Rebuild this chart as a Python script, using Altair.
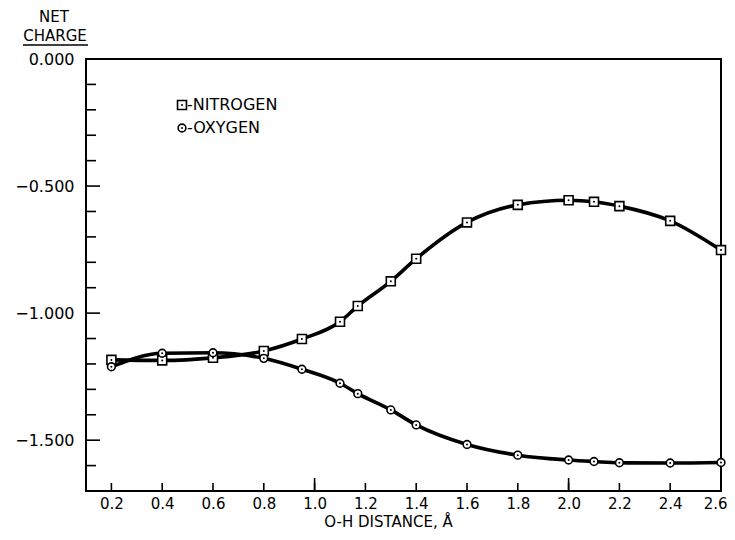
import altair as alt
import pandas as pd

# ---- data ----
distance = [0.2, 0.4, 0.6, 0.8, 0.95, 1.1, 1.17, 1.3, 1.4, 1.6, 1.8, 2.0, 2.1, 2.2, 2.4, 2.6]
nitrogen = [-1.184, -1.186, -1.176, -1.149, -1.102, -1.034, -0.972, -0.875, -0.786,
            -0.643, -0.574, -0.556, -0.562, -0.579, -0.637, -0.752]
oxygen = [-1.211, -1.158, -1.156, -1.178, -1.221, -1.276, -1.317, -1.381, -1.440,
          -1.517, -1.559, -1.578, -1.584, -1.589, -1.590, -1.588]

x_tick_values = [0.2, 0.4, 0.6, 0.8, 1.0, 1.2, 1.4, 1.6, 1.8, 2.0, 2.2, 2.4, 2.6]
x_long_ticks = [1.0, 2.0]
y_label_values = [0.0, -0.5, -1.0, -1.5]
y_minor_ticks = [-0.1, -0.2, -0.3, -0.4, -0.6, -0.7, -0.8, -0.9,
                 -1.1, -1.2, -1.3, -1.4, -1.6]

FONT = "DejaVu Sans"
FS = 16
FSX = 15
W, H = 635, 432

df = pd.DataFrame({
    "x": distance * 2,
    "y": nitrogen + oxygen,
    "series": ["NITROGEN"] * len(distance) + ["OXYGEN"] * len(distance),
})
df_n = df[df.series == "NITROGEN"]
df_o = df[df.series == "OXYGEN"]

xs = alt.Scale(domain=[0.1, 2.6], nice=False, zero=False)
ys = alt.Scale(domain=[-1.7, 0.0], nice=False, zero=False)

axX = alt.Axis(
    values=x_tick_values, format=".1f", ticks=False, domain=False, grid=False,
    labelFont=FONT, labelFontSize=FSX, labelColor="black", labelPadding=5,
    labelFlush=True, labelFlushOffset=6, labelOverlap=False,
    title="O-H  DISTANCE,   Å", titleFont=FONT, titleFontSize=FSX,
    titleFontWeight="normal", titleColor="black", titlePadding=3,
    titleX=302, titleAlign="center")
axY = alt.Axis(
    values=y_label_values, ticks=False, domain=False, grid=False,
    labelExpr="format(datum.value, '.3f')", labelFlush=False, labelOverlap=False,
    labelFont=FONT, labelFontSize=FS, labelColor="black", labelPadding=12,
    title=None)

X = alt.X("x:Q", scale=xs, axis=axX)
Y = alt.Y("y:Q", scale=ys, axis=axY)

# inward tick marks
xt = alt.Chart(pd.DataFrame({"x": x_tick_values})).mark_rule(color="black", strokeWidth=1.6).encode(
    x=X, y=alt.value(H), y2=alt.value(H - 8))
xlt = alt.Chart(pd.DataFrame({"x": x_long_ticks})).mark_rule(color="black", strokeWidth=1.6).encode(
    x=X, y=alt.value(H), y2=alt.value(H - 13))
ymaj = alt.Chart(pd.DataFrame({"y": y_label_values})).mark_rule(color="black", strokeWidth=1.6).encode(
    y=Y, x=alt.value(0), x2=alt.value(14))
ymin = alt.Chart(pd.DataFrame({"y": y_minor_ticks})).mark_rule(color="black", strokeWidth=1.6).encode(
    y=Y, x=alt.value(0), x2=alt.value(10))

# curves
line_n = alt.Chart(df_n).mark_line(color="black", strokeWidth=3.6, interpolate="monotone").encode(x=X, y=Y)
line_o = alt.Chart(df_o).mark_line(color="black", strokeWidth=3.6, interpolate="monotone").encode(x=X, y=Y)

# markers
sq = alt.Chart(df_n).mark_point(shape="square", size=80, filled=True, fill="white",
                                stroke="black", strokeWidth=1.6, opacity=1).encode(x=X, y=Y)
ci = alt.Chart(df_o).mark_point(shape="circle", size=60, filled=True, fill="white",
                                stroke="black", strokeWidth=1.6, opacity=1).encode(x=X, y=Y)
dots = alt.Chart(df).mark_point(shape="circle", size=4, filled=True, color="black", opacity=1).encode(x=X, y=Y)

# legend
one = pd.DataFrame({"k": [0]})
leg_sq = alt.Chart(one).mark_point(shape="square", size=80, filled=True, fill="white",
                                   stroke="black", strokeWidth=1.6, opacity=1).encode(
    x=alt.value(96), y=alt.value(46))
leg_ci = alt.Chart(one).mark_point(shape="circle", size=60, filled=True, fill="white",
                                   stroke="black", strokeWidth=1.6, opacity=1).encode(
    x=alt.value(96), y=alt.value(69))
leg_d1 = alt.Chart(one).mark_point(shape="circle", size=4, filled=True, color="black", opacity=1).encode(
    x=alt.value(96), y=alt.value(46))
leg_d2 = alt.Chart(one).mark_point(shape="circle", size=4, filled=True, color="black", opacity=1).encode(
    x=alt.value(96), y=alt.value(69))
leg_t1 = alt.Chart(one).mark_text(text="-NITROGEN", font=FONT, fontSize=FS, align="left",
                                  baseline="middle", color="black").encode(
    x=alt.value(101), y=alt.value(46))
leg_t2 = alt.Chart(one).mark_text(text="-OXYGEN", font=FONT, fontSize=FS, align="left",
                                  baseline="middle", color="black").encode(
    x=alt.value(101), y=alt.value(69))

# y title "NET / CHARGE" with underline
t_net = alt.Chart(one).mark_text(text="NET", font=FONT, fontSize=FSX, align="center",
                                 baseline="middle", color="black").encode(
    x=alt.value(-32), y=alt.value(-42))
t_charge = alt.Chart(one).mark_text(text="CHARGE", font=FONT, fontSize=FSX, align="center",
                                    baseline="middle", color="black").encode(
    x=alt.value(-31), y=alt.value(-23))
t_ul = alt.Chart(one).mark_rule(color="black", strokeWidth=1.6).encode(
    x=alt.value(-63), x2=alt.value(2), y=alt.value(-14))

chart = alt.layer(
    line_n, line_o, xt, xlt, ymaj, ymin, sq, ci, dots,
    leg_sq, leg_ci, leg_d1, leg_d2, leg_t1, leg_t2, t_net, t_charge, t_ul,
).properties(
    width=W, height=H,
    autosize=alt.AutoSizeParams(type="none"),
    padding={"left": 78, "top": 51, "right": 6, "bottom": 41},
).configure_view(
    stroke="black", strokeWidth=2,
)

chart.save("out.html", embed_options={"renderer": "svg", "actions": False})
